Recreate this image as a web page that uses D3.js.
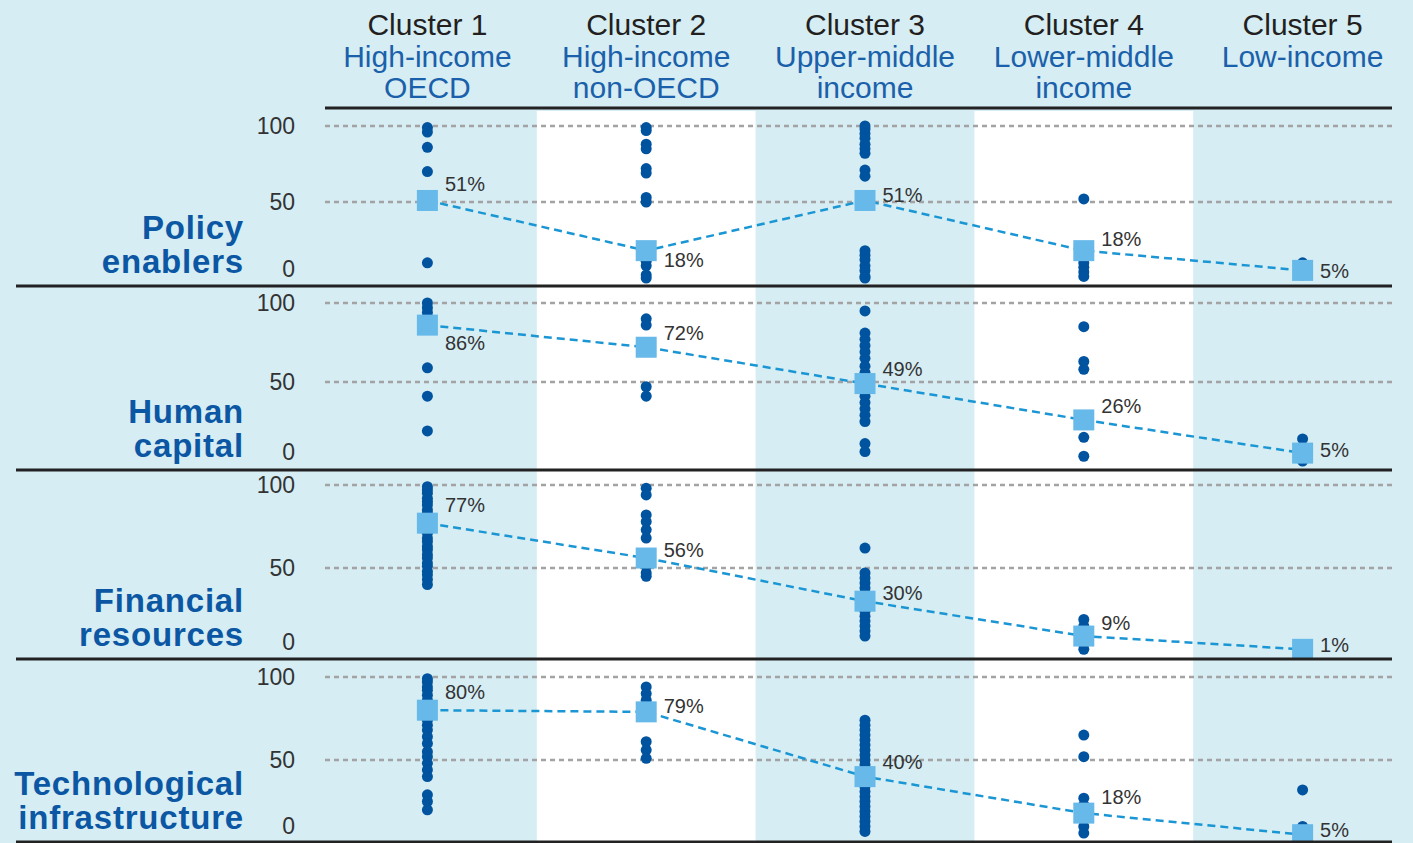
<!DOCTYPE html>
<html>
<head>
<meta charset="utf-8">
<script src="https://cdn.jsdelivr.net/npm/d3@7"></script>
<style>
  body { margin: 0; background: #d5edf3; }
  svg { display: block; }
  text { font-family: "Liberation Sans", Arial, sans-serif; }
</style>
</head>
<body>
<div id="chart"></div>
<script>
// ---- data ----
var clusters = ["Cluster 1", "Cluster 2", "Cluster 3", "Cluster 4", "Cluster 5"];
var clusterNames = [["High-income", "OECD"], ["High-income", "non-OECD"], ["Upper-middle", "income"], ["Lower-middle", "income"], ["Low-income"]];
var pillars = [["Policy", "enablers"], ["Human", "capital"], ["Financial", "resources"], ["Technological", "infrastructure"]];
var yTicks = [0, 50, 100];

// country scores per cluster (0-100)
var policyScores = [
  [99, 96, 86, 70, 10],
  [99, 97, 88, 85, 72, 69, 53, 50, 18, 11, 8, 2, 0],
  [100, 98, 95, 92, 88, 85, 82, 71, 67, 52, 18, 15, 12, 8, 5, 1, 0],
  [52, 18, 10, 7, 4, 1],
  [10, 7, 4, 2]
];
var humanScores = [
  [100, 97, 94, 91, 86, 59, 41, 19],
  [90, 86, 72, 47, 41],
  [95, 81, 77, 73, 69, 65, 60, 56, 52, 49, 45, 41, 37, 33, 29, 25, 11, 6],
  [85, 63, 58, 26, 15, 3],
  [14, 5, 2, 0]
];
var financialScores = [
  [99, 97, 95, 92, 90, 88, 85, 83, 80, 78, 76, 73, 71, 68, 66, 63, 61, 58, 56, 53, 51, 48, 46, 43, 40],
  [98, 94, 82, 78, 73, 68, 56, 51, 47, 45],
  [62, 47, 44, 41, 38, 35, 32, 30, 27, 24, 21, 18, 15, 12, 9],
  [19, 15, 12, 9, 4, 1],
  [1, 1]
];
var techScores = [
  [99, 97, 94, 92, 89, 86, 83, 80, 77, 74, 71, 68, 64, 60, 55, 52, 48, 44, 40, 29, 25, 20],
  [94, 90, 86, 79, 61, 56, 51],
  [74, 71, 68, 65, 62, 59, 56, 53, 50, 47, 43, 40, 37, 34, 31, 28, 25, 22, 19, 16, 13, 10, 7],
  [65, 52, 27, 23, 18, 14, 10, 6],
  [32, 10, 5, 2]
];

// cluster averages (%)
var policyAvg = [51, 18, 51, 18, 5];
var humanAvg = [86, 72, 49, 26, 5];
var financialAvg = [77, 56, 30, 9, 1];
var techAvg = [80, 79, 40, 18, 5];

var allScores = [policyScores, humanScores, financialScores, techScores];
var allAvg = [policyAvg, humanAvg, financialAvg, techAvg];

// ---- layout ----
var W = 1413, H = 843;
var PANEL_TOP = [108, 286, 470, 659];
var PANEL_BOTTOM = [286, 470, 659, 842];
var Y100 = [126, 303, 485, 677];
var Y0 = [278, 461, 651, 843];
var LABEL_DY = [[-17, 9, -6, -12, 0], [18, -14, -15, -14, -3], [-18, -8, -8, -13, -5], [-18, -6, -15, -16, -5]];
var PLOT_LEFT = 325, PLOT_RIGHT = 1392;
var SQ = 21;

var svg = d3.select("#chart").append("svg")
    .attr("width", W)
    .attr("height", H);

svg.append("rect")
    .attr("width", W)
    .attr("height", H)
    .attr("fill", "#d5edf3");

var x = d3.scaleBand().domain(clusters).range([318, 1412]);
var bw = x.bandwidth();
function cx(i) { return x(clusters[i]) + bw / 2; }

// white strips behind clusters 2 and 4
svg.selectAll("rect.strip")
    .data(clusters.filter(function(d, i) { return i % 2 == 1; }))
    .enter()
    .append("rect")
    .attr("class", "strip")
    .attr("x", function(d) { return x(d); })
    .attr("width", bw)
    .attr("y", PANEL_TOP[0] + 3)
    .attr("height", H - PANEL_TOP[0] - 3)
    .attr("fill", "#ffffff");

// column headers
var head = svg.selectAll("g.head")
    .data(clusters)
    .enter()
    .append("g")
    .attr("class", "head")
    .attr("transform", function(d) { return "translate(" + (x(d) + bw / 2) + ",0)"; });

head.append("text")
    .attr("y", 35)
    .attr("text-anchor", "middle")
    .attr("font-size", 30)
    .attr("fill", "#231f20")
    .text(function(d) { return d; });

head.each(function(d, i) {
  d3.select(this).selectAll("text.sub")
      .data(clusterNames[i])
      .enter()
      .append("text")
      .attr("class", "sub")
      .attr("y", function(s, j) { return 67 + j * 31; })
      .attr("text-anchor", "middle")
      .attr("font-size", 30)
      .attr("fill", "#1a60aa")
      .text(function(s) { return s; });
});

svg.append("line")
    .attr("x1", PLOT_LEFT).attr("x2", PLOT_RIGHT)
    .attr("y1", PANEL_TOP[0]).attr("y2", PANEL_TOP[0])
    .attr("stroke", "#222").attr("stroke-width", 3);

var line = d3.line();

pillars.forEach(function(p, k) {
  var y = d3.scaleLinear().domain([0, 100]).range([Y0[k], Y100[k]]);
  var g = svg.append("g");

  // gridlines
  g.selectAll("line.grid")
      .data(yTicks.filter(function(t) { return t > 0; }))
      .enter()
      .append("line")
      .attr("x1", PLOT_LEFT).attr("x2", PLOT_RIGHT)
      .attr("y1", function(t) { return y(t); })
      .attr("y2", function(t) { return y(t); })
      .attr("stroke", "#a3a3a3")
      .attr("stroke-width", 2.5)
      .attr("stroke-dasharray", "5,4");

  // tick labels
  g.selectAll("text.tick")
      .data(yTicks)
      .enter()
      .append("text")
      .attr("x", 295)
      .attr("y", function(t) { return t == 0 ? Math.min(y(0) - 9, PANEL_BOTTOM[k] - 16) : y(t); })
      .attr("dy", "0.36em")
      .attr("text-anchor", "end")
      .attr("font-size", 23)
      .attr("fill", "#333")
      .text(function(t) { return t; });

  // pillar name
  g.append("text")
      .attr("text-anchor", "end")
      .attr("font-size", 33)
      .attr("font-weight", "bold")
      .attr("letter-spacing", 0.8)
      .attr("fill", "#0b57a3")
      .selectAll("tspan")
      .data(p)
      .enter()
      .append("tspan")
      .attr("x", 244)
      .attr("y", function(s, j) { return PANEL_BOTTOM[k] - 13 - (1 - j) * 34; })
      .text(function(s) { return s; });

  // country dots
  allScores[k].forEach(function(vals, i) {
    g.selectAll("circle.c" + i)
        .data(vals)
        .enter()
        .append("circle")
        .attr("class", "c" + i)
        .attr("cx", cx(i))
        .attr("cy", function(v) { return y(v); })
        .attr("r", 5.5)
        .attr("fill", "#00539f");
  });

  var avg = allAvg[k];

  // dashed line through averages
  g.append("path")
      .attr("d", line(avg.map(function(v, i) { return [cx(i), y(v)]; })))
      .attr("fill", "none")
      .attr("stroke", "#1b96d4")
      .attr("stroke-width", 2.5)
      .attr("stroke-dasharray", "8,5");

  g.selectAll("rect.avg")
      .data(avg)
      .enter()
      .append("rect")
      .attr("class", "avg")
      .attr("x", function(v, i) { return cx(i) - SQ / 2; })
      .attr("y", function(v) { return y(v) - SQ / 2; })
      .attr("width", SQ)
      .attr("height", SQ)
      .attr("fill", "#66b9e9");

  g.selectAll("text.avg")
      .data(avg)
      .enter()
      .append("text")
      .attr("class", "avg")
      .attr("x", function(v, i) { return cx(i) + SQ / 2 + 7; })
      .attr("y", function(v, i) { return y(v) + LABEL_DY[k][i]; })
      .attr("dy", "0.36em")
      .attr("font-size", 20)
      .attr("fill", "#333")
      .text(function(v) { return v + "%"; });

  // panel bottom rule
  g.append("line")
      .attr("x1", 16).attr("x2", PLOT_RIGHT)
      .attr("y1", PANEL_BOTTOM[k]).attr("y2", PANEL_BOTTOM[k])
      .attr("stroke", "#222").attr("stroke-width", 3);
});
</script>
</body>
</html>
